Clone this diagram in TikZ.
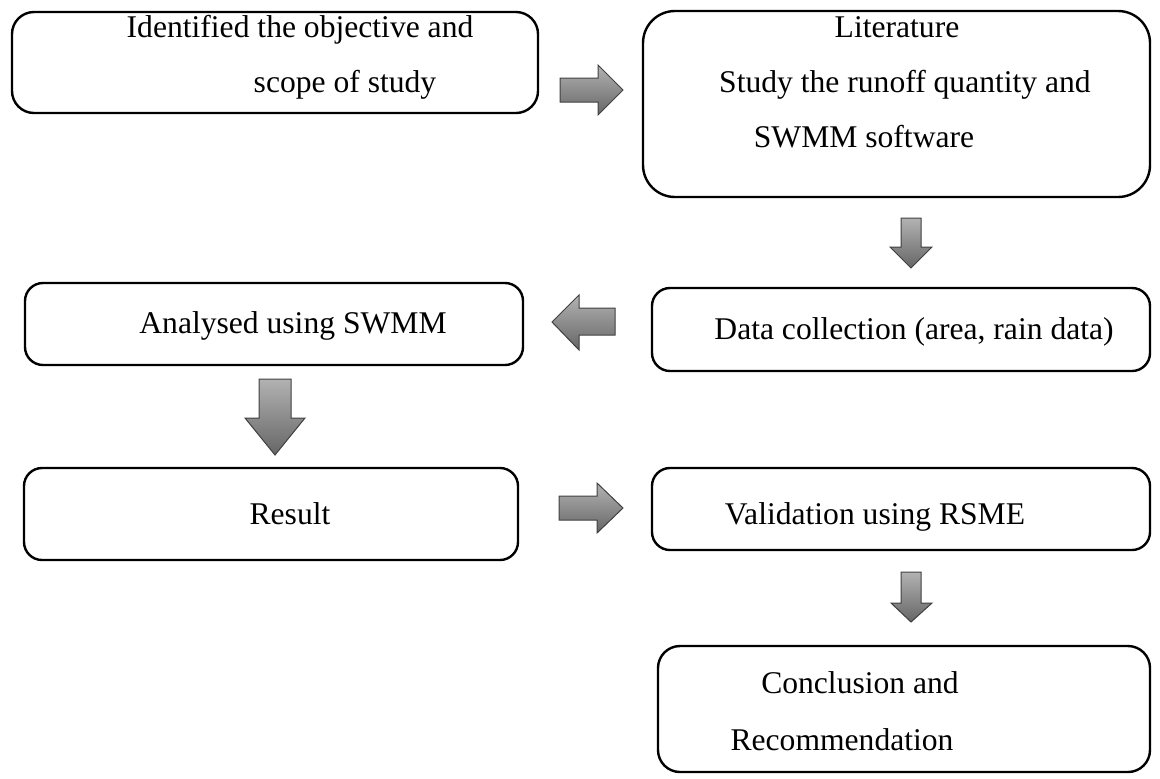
\documentclass[tikz,border=0pt]{standalone}
\usepackage{fontspec}
\setmainfont{Liberation Serif}
\begin{document}
\begin{tikzpicture}[x=0.5pt,y=-0.5pt,
  box/.style={draw=black, line width=1.2pt, fill=white, inner sep=0pt},
  lbl/.style={font=\fontsize{15.8}{19}\selectfont, inner sep=0pt, anchor=mid},
  blk/.style={draw=black!75, line width=0.5pt, top color=black!30, bottom color=black!60}]
\useasboundingbox (0,0) rectangle (1160,778);
% boxes
\node[box, rounded corners=11pt, minimum width=263pt, minimum height=50.5pt] (A) at (275,62.5) {};
\node[box, rounded corners=16pt, minimum width=253.5pt, minimum height=93pt] (B) at (896.5,104) {};
\node[box, rounded corners=9pt, minimum width=249pt, minimum height=41.5pt] (C) at (901,329.5) {};
\node[box, rounded corners=9pt, minimum width=249pt, minimum height=41pt] (D) at (274,324) {};
\node[box, rounded corners=9pt, minimum width=247pt, minimum height=46pt] (E) at (271,514) {};
\node[box, rounded corners=9pt, minimum width=249pt, minimum height=41pt] (F) at (901,509) {};
\node[box, rounded corners=11pt, minimum width=246pt, minimum height=63pt] (G) at (904,709) {};
% texts
\node[lbl] (a1) at (300,33) {Identified the objective and};
\node[lbl] (a2) at (345,88) {scope of study};
\node[lbl] (b1) at (897,33) {Literature};
\node[lbl] (b2) at (905,88) {Study the runoff quantity and};
\node[lbl] (b3) at (864,143) {SWMM software};
\node[lbl] (c1) at (914,335) {Data collection (area, rain data)};
\node[lbl] (d1) at (293,329) {Analysed using SWMM};
\node[lbl] (e1) at (290,520) {Result};
\node[lbl] (f1) at (875,520) {Validation using RSME};
\node[lbl] (g1) at (860,689) {Conclusion and};
\node[lbl] (g2) at (842,746) {Recommendation};
% block arrows
\draw[blk] (560,78) -- (598,78) -- (598,65) -- (623,90) -- (598,115) -- (598,102) -- (560,102) -- cycle;
\draw[blk] (901,218) -- (921,218) -- (921,247) -- (932,247) -- (911,268) -- (890,247) -- (901,247) -- cycle;
\draw[blk] (615,308) -- (579,308) -- (579,295) -- (552,322) -- (579,350) -- (579,335) -- (615,335) -- cycle;
\draw[blk] (259,379) -- (291,379) -- (291,418) -- (305,418) -- (275,455) -- (245,418) -- (259,418) -- cycle;
\draw[blk] (559,496) -- (597,496) -- (597,483) -- (623,508) -- (597,533) -- (597,520) -- (559,520) -- cycle;
\draw[blk] (901,572) -- (921,572) -- (921,603) -- (932,603) -- (911,622) -- (891,603) -- (901,603) -- cycle;
\end{tikzpicture}
\end{document}
